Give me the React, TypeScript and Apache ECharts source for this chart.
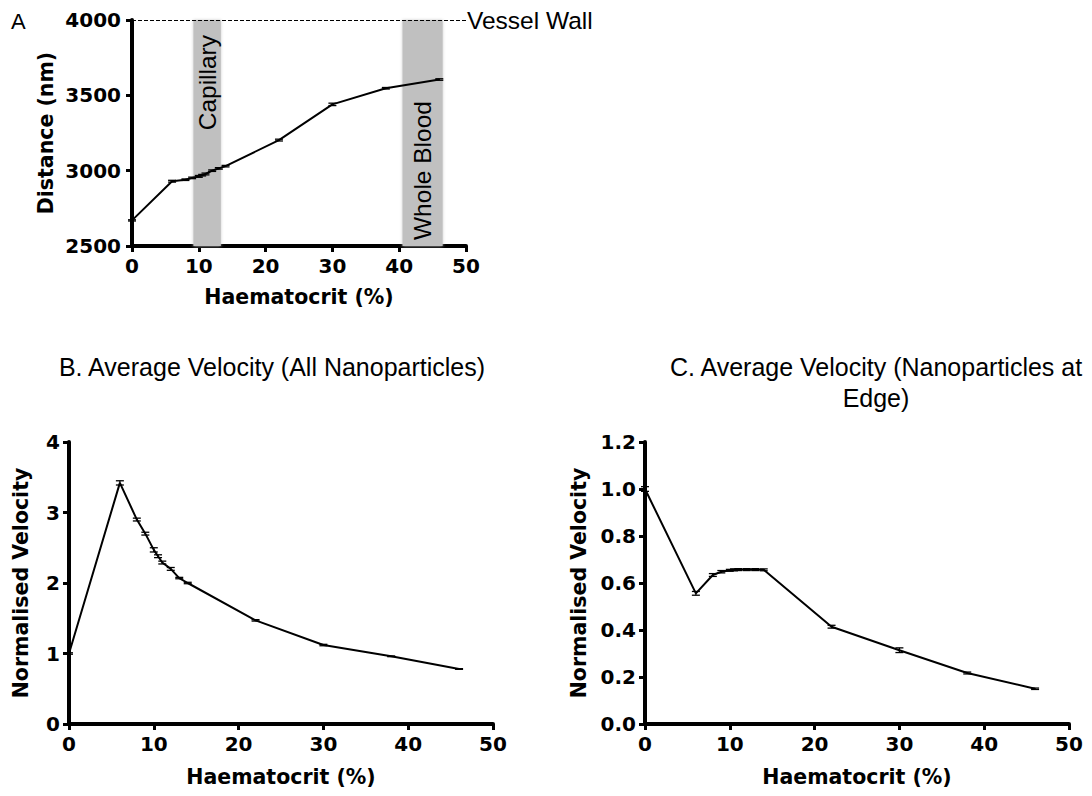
import React, { useEffect, useRef } from "react";
import * as echarts from "echarts";

// Haematocrit (%) sample points
const hct = [0, 6, 8, 9, 10, 10.5, 11, 12, 13, 14, 22, 30, 38, 46];
// Panel A: distance from centre (nm)
const distance = [2670, 2930, 2940, 2952, 2962, 2970, 2978, 3000, 3015, 3030, 3203, 3440, 3547, 3605];
const distanceErr = [4, 6, 5, 5, 6, 5, 6, 5, 5, 5, 6, 8, 5, 5];
// Panel B: normalised velocity (all nanoparticles)
const velAll = [1.0, 3.42, 2.9, 2.7, 2.47, 2.38, 2.29, 2.2, 2.07, 2.0, 1.47, 1.12, 0.96, 0.78];
const velAllErr = [0.01, 0.03, 0.02, 0.02, 0.03, 0.02, 0.02, 0.02, 0.01, 0.01, 0.01, 0.01, 0.005, 0.005];
// Panel C: normalised velocity (nanoparticles at edge)
const velEdge = [1.0, 0.556, 0.634, 0.648, 0.654, 0.656, 0.657, 0.657, 0.657, 0.656, 0.414, 0.314, 0.217, 0.15];
const velEdgeErr = [0.01, 0.008, 0.006, 0.005, 0.004, 0.004, 0.004, 0.004, 0.004, 0.004, 0.006, 0.01, 0.004, 0.003];

// Shaded bands (haematocrit range)
const capillaryBand = [9.2, 13.3];
const wholeBloodBand = [40.5, 46.5];
const vesselWall = 4000;

const xTicks = { min: 0, max: 50, interval: 10 };

const BOLD = "DejaVu Sans";
const REG = "Liberation Sans";

const tickLabel = { fontFamily: BOLD, fontWeight: "bold" as const, fontSize: 20, color: "#000" };
const axisName = { fontFamily: BOLD, fontWeight: "bold" as const, fontSize: 20.5, color: "#000" };

function xAxis(gridIndex: number, nameGap: number) {
  return {
    type: "value",
    gridIndex,
    ...xTicks,
    name: "Haematocrit (%)",
    nameLocation: "middle",
    nameGap,
    nameTextStyle: axisName,
    axisLine: { show: true, onZero: false, lineStyle: { color: "#000", width: 4 } },
    axisTick: { show: true, inside: false, length: 6, lineStyle: { color: "#000", width: 3 } },
    axisLabel: { ...tickLabel, margin: 10, formatter: (v: number) => String(v) },
    splitLine: { show: false },
  };
}

function yAxis(gridIndex: number, min: number, max: number, interval: number, name: string, nameGap: number, fmt: (v: number) => string, margin = 9) {
  return {
    type: "value",
    gridIndex,
    min,
    max,
    interval,
    name,
    nameLocation: "middle",
    nameGap,
    nameTextStyle: axisName,
    axisLine: { show: true, onZero: false, lineStyle: { color: "#000", width: 4 } },
    axisTick: { show: true, inside: false, length: 6, lineStyle: { color: "#000", width: 3 } },
    axisLabel: { ...tickLabel, margin, formatter: fmt },
    splitLine: { show: false },
  };
}

function lineSeries(idx: number, values: number[], extra: any = {}) {
  return {
    type: "line",
    xAxisIndex: idx,
    yAxisIndex: idx,
    data: hct.map((x, i) => [x, values[i]]),
    showSymbol: false,
    symbol: "none",
    lineStyle: { color: "#000", width: 2 },
    z: 3,
    ...extra,
  };
}

function errSeries(idx: number, values: number[], errs: number[]) {
  return {
    type: "custom",
    xAxisIndex: idx,
    yAxisIndex: idx,
    z: 4,
    data: hct.map((x, i) => [x, values[i], errs[i]]),
    renderItem: (params: any, api: any) => {
      const x = api.value(0);
      const y = api.value(1);
      const e = api.value(2);
      const lo = api.coord([x, y - e]);
      const hi = api.coord([x, y + e]);
      const w = 4;
      const st = { stroke: "#000", lineWidth: 1.3 };
      return {
        type: "group",
        children: [
          { type: "line", shape: { x1: lo[0], y1: lo[1], x2: hi[0], y2: hi[1] }, style: st },
          { type: "line", shape: { x1: lo[0] - w, y1: lo[1], x2: lo[0] + w, y2: lo[1] }, style: st },
          { type: "line", shape: { x1: hi[0] - w, y1: hi[1], x2: hi[0] + w, y2: hi[1] }, style: st },
        ],
      };
    },
  };
}

export default function App() {
  const ref = useRef<HTMLDivElement>(null);
  useEffect(() => {
    if (!ref.current) return;
    const chart = echarts.init(ref.current, null, { renderer: "svg" });
    const option: any = {
      animation: false,
      backgroundColor: "#fff",
      grid: [
        { left: 132, top: 20, width: 334, height: 226 },
        { left: 69, top: 442, width: 424, height: 282 },
        { left: 645, top: 442, width: 424, height: 282 },
      ],
      xAxis: [xAxis(0, 40), xAxis(1, 42), xAxis(2, 42)],
      yAxis: [
        yAxis(0, 2500, 4000, 500, "Distance (nm)", 76, (v: number) => String(v), 11),
        yAxis(1, 0, 4, 1, "Normalised Velocity", 38, (v: number) => String(v)),
        yAxis(2, 0, 1.2, 0.2, "Normalised Velocity", 56, (v: number) => v.toFixed(1)),
      ],
      series: [
        lineSeries(0, distance, {
          markArea: {
            silent: true,
            itemStyle: { color: "#c0c0c0", shadowBlur: 3, shadowColor: "#c8c8c8" },
            data: [
              [{ xAxis: capillaryBand[0] }, { xAxis: capillaryBand[1] }],
              [{ xAxis: wholeBloodBand[0] }, { xAxis: wholeBloodBand[1] }],
            ],
          },
          markLine: {
            silent: true,
            symbol: "none",
            lineStyle: { color: "#000", width: 1, type: [4, 2] },
            label: {
              show: true,
              position: "end",
              distance: 1,
              formatter: "Vessel Wall",
              fontFamily: REG,
              fontSize: 24.5,
              color: "#000",
            },
            data: [{ yAxis: vesselWall }],
          },
        }),
        errSeries(0, distance, distanceErr),
        lineSeries(1, velAll),
        errSeries(1, velAll, velAllErr),
        lineSeries(2, velEdge),
        errSeries(2, velEdge, velEdgeErr),
      ],
    };
    chart.setOption(option);

    const cap = chart.convertToPixel({ gridIndex: 0 } as any, [(capillaryBand[0] + capillaryBand[1]) / 2, vesselWall]) as number[];
    const wb = chart.convertToPixel({ gridIndex: 0 } as any, [(wholeBloodBand[0] + wholeBloodBand[1]) / 2, 2500]) as number[];
    const txt = (s: string, size: number, extra: any) => ({ fontFamily: REG, fontSize: size, fill: "#000", text: s, ...extra });
    chart.setOption({
      graphic: [
        { type: "text", x: 11, y: 21, style: txt("A", 22, { align: "left", verticalAlign: "middle" }) },
        { type: "text", x: 272, y: 367, style: txt("B. Average Velocity (All Nanoparticles)", 25, { align: "center", verticalAlign: "middle" }) },
        { type: "text", x: 876, y: 367, style: txt("C. Average Velocity (Nanoparticles at", 25, { align: "center", verticalAlign: "middle" }) },
        { type: "text", x: 876, y: 398, style: txt("Edge)", 25, { align: "center", verticalAlign: "middle" }) },
        { type: "text", x: cap[0], y: cap[1] + 15, rotation: Math.PI / 2, z: 10, style: txt("Capillary", 24.5, { align: "right", verticalAlign: "middle" }) },
        { type: "text", x: wb[0], y: wb[1] - 6, rotation: Math.PI / 2, z: 10, style: txt("Whole Blood", 24.5, { align: "left", verticalAlign: "middle" }) },
      ],
    });
    return () => chart.dispose();
  }, []);
  return <div ref={ref} style={{ position: "fixed", left: 0, top: 0, width: 1092, height: 796 }} />;
}
